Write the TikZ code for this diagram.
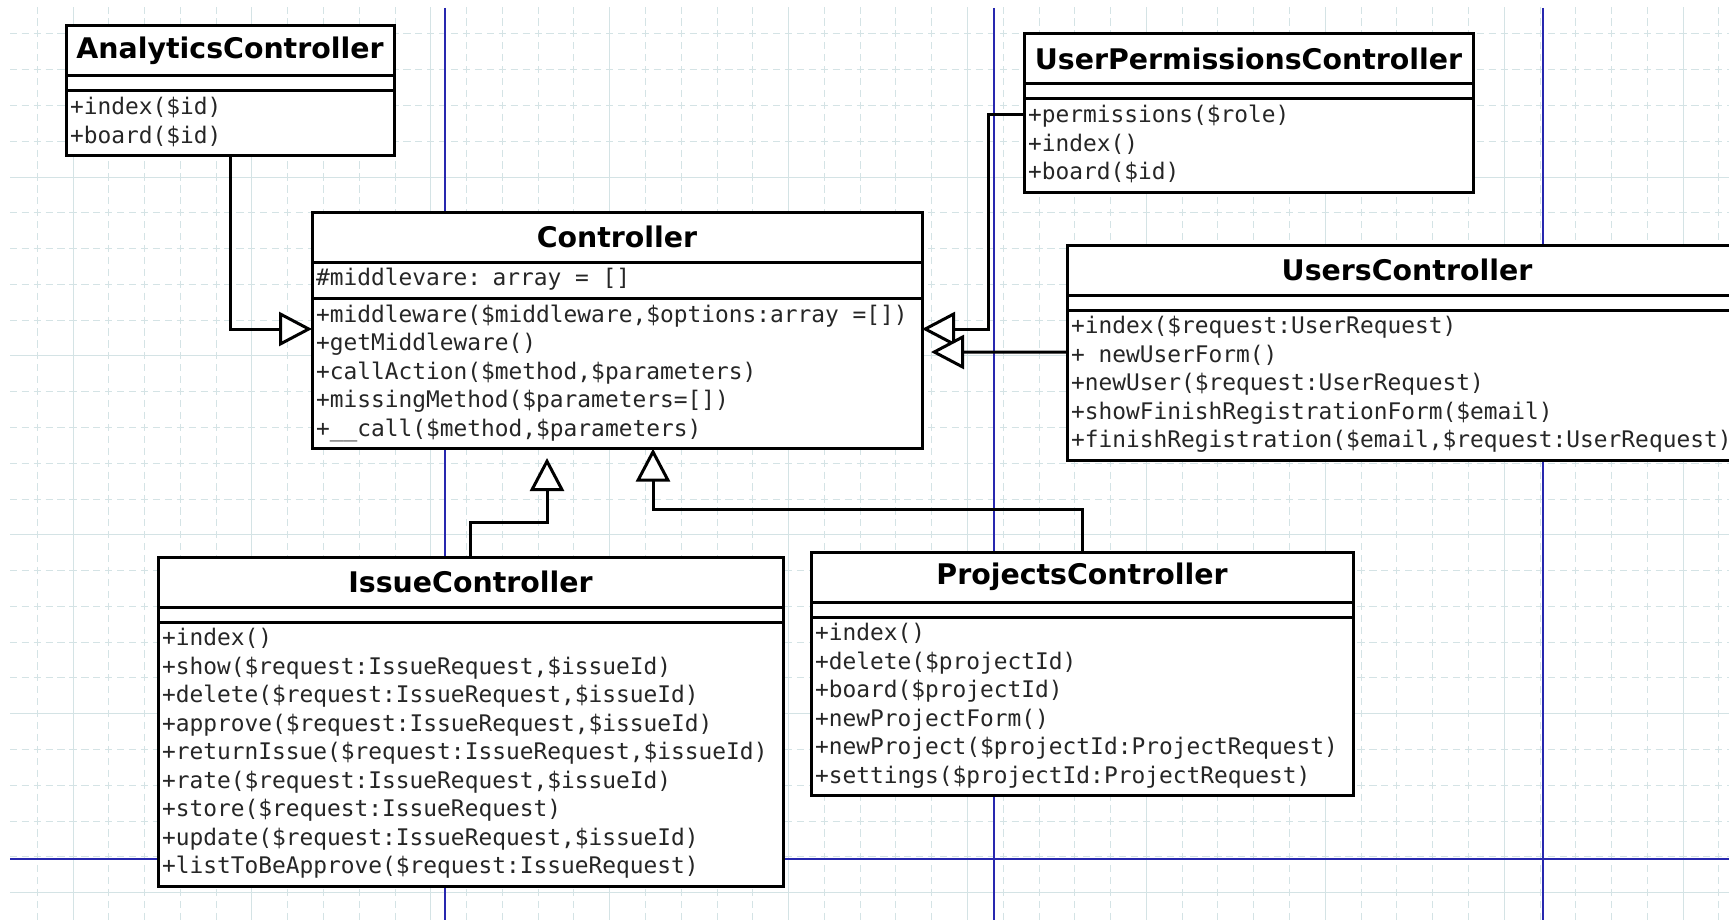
\documentclass[tikz,border=0pt]{standalone}
\usepackage{fontspec}
\usetikzlibrary{arrows.meta}
\newfontfamily\namefont{DejaVu Sans}
\newfontfamily\membfont{DejaVu Sans Mono}
\definecolor{gridline}{RGB}{212,227,229}
\definecolor{pageline}{RGB}{40,40,175}
\tikzset{
	minorgrid/.style={gridline, line width=0.5pt, dash pattern=on 3.6pt off 2.363pt, dash phase=1.8pt},
	majorgrid/.style={gridline, line width=0.5pt},
	pagebreak/.style={pageline, line width=0.9pt},
	cname/.style={draw, fill=white, line width=1.5pt, outer sep=0pt, inner sep=0pt, anchor=north west,
		minimum width=#1, minimum height=25pt, font=\namefont\bfseries\fontsize{14.2}{17}\selectfont},
	cattr/.style={draw, fill=white, line width=1.5pt, outer sep=0pt, inner sep=0pt, anchor=north west,
		minimum width=#1, minimum height=7.5pt},
	cops/.style={draw, fill=white, line width=1.5pt, outer sep=0pt, inner xsep=2pt, inner ysep=1.95pt,
		anchor=north west, align=left, text width=#1-4pt, text=black!85,
		font=\membfont\fontsize{11.43}{14.25}\selectfont,
		execute at begin node={\noindent\spaceskip=6.88pt\relax\strut}, execute at end node=\strut},
	inherit/.style={line width=1.5pt, -{Triangle[length=16.5pt, width=17pt, fill=white]}},
}

\begin{document}
\begin{tikzpicture}[x=1pt, y=-1pt]
	\useasboundingbox (0,0) rectangle (864.5,460);
	\clip (0,0) rectangle (864.5,460);
	\fill[white] (0,0) rectangle (864.5,460);

	\begin{scope}
		\clip (5,4) rectangle (864.5,460);
		\foreach \k in {0,...,48}
			\draw[minorgrid] ({0.72+17.89*\k},-0.95) -- ++(0,470);
		\foreach \k in {0,...,26}
			\draw[minorgrid] (0.72,{-0.95+17.89*\k}) -- ++(870,0);
		\foreach \k in {0,...,9}
			\draw[majorgrid] ({36.5+89.45*\k},0) -- ++(0,460);
		\foreach \k in {0,...,5}
			\draw[majorgrid] (0,{-0.95+89.45*\k}) -- ++(870,0);
	\end{scope}
	\foreach \x in {222.5,497,771.5}
		\draw[pagebreak] (\x,4) -- (\x,460);
	\draw[pagebreak] (5,429.5) -- (864.5,429.5);

	\node[cname=164pt] (analytics) at (33,13) {AnalyticsController};
	\node[cattr=164pt] (analytics-attr) at (analytics.south west) {};
	\node[cops=164pt] (analytics-ops) at (analytics-attr.south west) {+index(\$id)\\+board(\$id)};

	\node[cname=305pt] (controller) at (156,106) {Controller};
	\node[cops=305pt] (controller-attr) at (controller.south west) {\#middlevare: array = []};
	\node[cops=305pt] (controller-ops) at (controller-attr.south west) {+middleware(\$middleware,\$options:array =[])\\+getMiddleware()\\+callAction(\$method,\$parameters)\\+missingMethod(\$parameters=[])\\+\_\_call(\$method,\$parameters)};

	\node[cname=224.5pt] (permissions) at (512,17) {UserPermissionsController};
	\node[cattr=224.5pt] (permissions-attr) at (permissions.south west) {};
	\node[cops=224.5pt] (permissions-ops) at (permissions-attr.south west) {+permissions(\$role)\\+index()\\+board(\$id)};

	\node[cname=340pt] (users) at (533.5,122.5) {UsersController};
	\node[cattr=340pt] (users-attr) at (users.south west) {};
	\node[cops=340pt] (users-ops) at (users-attr.south west) {+index(\$request:UserRequest)\\+ newUserForm()\\+newUser(\$request:UserRequest)\\+showFinishRegistrationForm(\$email)\\+finishRegistration(\$email,\$request:UserRequest)};

	\node[cname=312.5pt] (issue) at (79,278.5) {IssueController};
	\node[cattr=312.5pt] (issue-attr) at (issue.south west) {};
	\node[cops=312.5pt] (issue-ops) at (issue-attr.south west) {+index()\\+show(\$request:IssueRequest,\$issueId)\\+delete(\$request:IssueRequest,\$issueId)\\+approve(\$request:IssueRequest,\$issueId)\\+returnIssue(\$request:IssueRequest,\$issueId)\\+rate(\$request:IssueRequest,\$issueId)\\+store(\$request:IssueRequest)\\+update(\$request:IssueRequest,\$issueId)\\+listToBeApprove(\$request:IssueRequest)};

	\node[cname=271pt] (projects) at (405.5,276) {ProjectsController};
	\node[cattr=271pt] (projects-attr) at (projects.south west) {};
	\node[cops=271pt] (projects-ops) at (projects-attr.south west) {+index()\\+delete(\$projectId)\\+board(\$projectId)\\+newProjectForm()\\+newProject(\$projectId:ProjectRequest)\\+settings(\$projectId:ProjectRequest)};

	\draw[inherit] (analytics-ops.south) |- ([yshift=-15.35pt]controller-ops.north west);
	\draw[inherit] ([yshift=-7.75pt]permissions-ops.north west) -- ++(-18,0) |- ([yshift=-15.35pt]controller-ops.north east);
	\draw[inherit] ([yshift=-21pt]users-ops.north west) -- ([xshift=4.5pt,yshift=-26.85pt]controller-ops.north east);
	\draw[inherit] (issue.north) -- ++(0,-17.5) -| ([xshift=117.5pt,yshift=-4.7pt]controller-ops.south west);
	\draw[inherit] (projects.north) -- ++(0,-21.25) -| ([xshift=170.5pt]controller-ops.south west);
\end{tikzpicture}
\end{document}
